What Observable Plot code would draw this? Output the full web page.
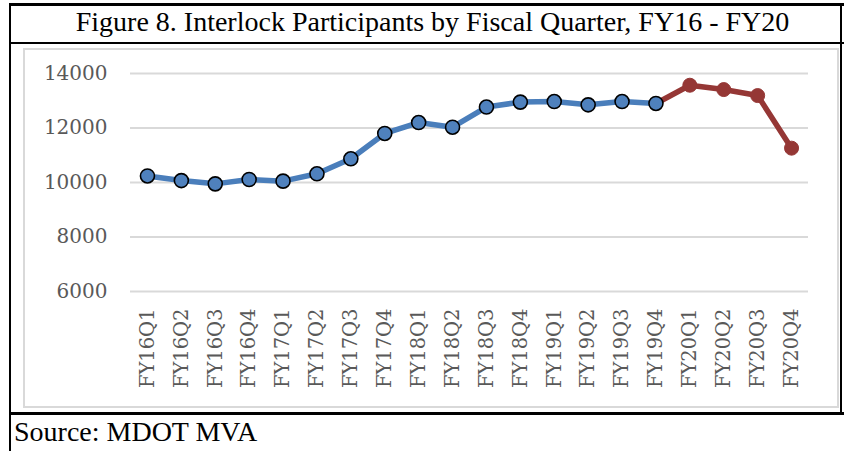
<!DOCTYPE html>
<html>
<head>
<meta charset="utf-8">
<script src="https://cdn.jsdelivr.net/npm/d3@7"></script>
<script src="https://cdn.jsdelivr.net/npm/@observablehq/plot@0.6"></script>
<style>
  html, body { margin: 0; padding: 0; background: #ffffff; }
  #page { position: relative; width: 844px; height: 451px; overflow: hidden; background: #ffffff; }
  .bk { position: absolute; background: #000000; }
  #graybox { position: absolute; left: 23px; top: 48px; width: 812px; height: 356px; border: 2px solid #d9d9d9; }
  #title { position: absolute; left: 11px; top: 7px; width: 831px; text-align: center;
           font-family: "Liberation Serif", "Times New Roman", serif; font-size: 28px; line-height: 30px; color: #000; padding-left: 12px; box-sizing: border-box; white-space: nowrap; }
  #source { position: absolute; left: 14px; top: 417px; font-family: "Liberation Serif", "Times New Roman", serif;
            font-size: 28px; line-height: 30px; color: #000; white-space: nowrap; }
  #chart { position: absolute; left: 0; top: 44px; }
  #chart svg { background: transparent; }
</style>
</head>
<body>
<div id="page">
  <div id="graybox"></div>
  <div class="bk" style="left:9px;top:3px;width:835px;height:3px"></div>
  <div class="bk" style="left:9px;top:3px;width:2px;height:448px"></div>
  <div class="bk" style="left:840px;top:3px;width:2px;height:411px"></div>
  <div class="bk" style="left:9px;top:42px;width:835px;height:2px"></div>
  <div class="bk" style="left:9px;top:412px;width:835px;height:3px"></div>
  <div id="title">Figure 8. Interlock Participants by Fiscal Quarter, FY16 - FY20</div>
  <div id="chart"></div>
  <div id="source">Source: MDOT MVA</div>
</div>
<script>
const quarters = ["FY16Q1","FY16Q2","FY16Q3","FY16Q4","FY17Q1","FY17Q2","FY17Q3","FY17Q4",
                  "FY18Q1","FY18Q2","FY18Q3","FY18Q4","FY19Q1","FY19Q2","FY19Q3","FY19Q4",
                  "FY20Q1","FY20Q2","FY20Q3","FY20Q4"];
const participants = [10240, 10070, 9950, 10110, 10050, 10320, 10870, 11800,
                      12200, 12030, 12770, 12950, 12970, 12850, 12970, 12900,
                      13570, 13410, 13190, 11260];
const yTicks = [6000, 8000, 10000, 12000, 14000];
const blueCount = 16; // FY16Q1 - FY19Q4
const blueColor = "#4a7ebb";
const blueFill = "#4f81bd";
const redColor = "#953735";

const rows = quarters.map((q, i) => ({q, v: participants[i], i}));
const blueRows = rows.slice(0, blueCount);
const redRows = rows.slice(blueCount - 1);       // line continues from FY19Q4
const redDots = rows.slice(blueCount);

const chart = Plot.plot({
  width: 844,
  height: 369,
  marginTop: 29,
  marginBottom: 122,
  marginLeft: 130,
  marginRight: 36,
  style: {background: "transparent", fontFamily: "'DejaVu Serif', serif"},
  x: {type: "point", domain: quarters, padding: 0.5, round: false},
  y: {domain: [6000, 14000]},
  marks: [
    Plot.gridY(yTicks, {stroke: "#d9d9d9", strokeOpacity: 1, strokeWidth: 2}),
    Plot.axisY(yTicks, {tickSize: 0, tickPadding: 23, fontSize: 20, fill: "#595959",
                        fontFamily: "'DejaVu Serif', serif", label: null, tickFormat: d => String(d)}),
    Plot.axisX({tickSize: 0, tickPadding: 17, tickRotate: -90, fontSize: 19.5, fill: "#595959",
                fontFamily: "'DejaVu Serif', serif", label: null}),
    Plot.line(redRows, {x: "q", y: "v", stroke: redColor, strokeWidth: 5.5}),
    Plot.line(blueRows, {x: "q", y: "v", stroke: blueColor, strokeWidth: 5.5}),
    Plot.dot(redDots, {x: "q", y: "v", r: 7, fill: redColor, stroke: redColor, strokeWidth: 1}),
    Plot.dot(blueRows, {x: "q", y: "v", r: 7, fill: blueFill, stroke: "#000000", strokeWidth: 1.6})
  ]
});
document.getElementById("chart").appendChild(chart);
</script>
</body>
</html>
